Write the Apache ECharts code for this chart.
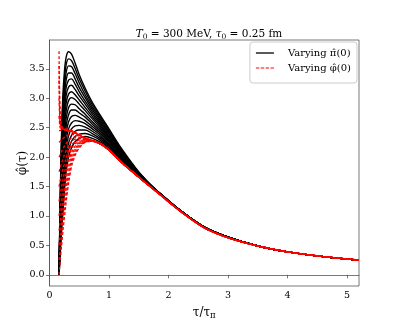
<!DOCTYPE html>
<html>
<head>
<meta charset="utf-8">
<script src="https://cdn.jsdelivr.net/npm/echarts@6/dist/echarts.min.js"></script>
<style>
  html, body { margin: 0; background: #fff; }
  #chart { width: 399px; height: 328px; }
</style>
</head>
<body>
<div id="chart"></div>
<script>
// tau/tau_pi sample points for the early part of the black curves (varying pi(0))
const blackX = [0.16, 0.18, 0.2, 0.22, 0.25, 0.28, 0.32, 0.37, 0.43, 0.5, 0.6, 0.72, 0.86, 1.0, 1.2, 1.5];
const blackCurves = [
  [0, 1.30, 2.30, 2.95, 3.45, 3.70, 3.79, 3.75, 3.60, 3.40, 3.17, 2.93, 2.70, 2.48, 2.16, 1.75],
  [0, 1.24, 2.19, 2.82, 3.31, 3.57, 3.67, 3.64, 3.51, 3.33, 3.12, 2.89, 2.67, 2.46, 2.14, 1.74],
  [0, 1.17, 2.09, 2.69, 3.18, 3.44, 3.55, 3.54, 3.42, 3.26, 3.06, 2.85, 2.64, 2.43, 2.13, 1.74],
  [0, 1.11, 1.98, 2.56, 3.04, 3.31, 3.43, 3.43, 3.33, 3.18, 3.01, 2.81, 2.61, 2.41, 2.11, 1.73],
  [0, 1.05, 1.87, 2.43, 2.90, 3.18, 3.31, 3.33, 3.24, 3.11, 2.95, 2.77, 2.58, 2.39, 2.10, 1.73],
  [0, 0.98, 1.77, 2.29, 2.77, 3.05, 3.19, 3.22, 3.15, 3.04, 2.90, 2.73, 2.55, 2.36, 2.08, 1.72],
  [0, 0.92, 1.66, 2.16, 2.63, 2.92, 3.07, 3.11, 3.06, 2.97, 2.84, 2.69, 2.52, 2.34, 2.07, 1.71],
  [0, 0.86, 1.55, 2.03, 2.49, 2.79, 2.96, 3.01, 2.98, 2.90, 2.79, 2.65, 2.49, 2.32, 2.05, 1.71],
  [0, 0.79, 1.45, 1.90, 2.36, 2.66, 2.84, 2.90, 2.89, 2.82, 2.73, 2.60, 2.46, 2.29, 2.04, 1.70],
  [0, 0.73, 1.34, 1.77, 2.22, 2.53, 2.72, 2.80, 2.80, 2.75, 2.68, 2.56, 2.43, 2.27, 2.02, 1.70],
  [0, 0.67, 1.23, 1.64, 2.08, 2.40, 2.60, 2.69, 2.71, 2.68, 2.62, 2.52, 2.40, 2.25, 2.01, 1.69],
  [0, 0.60, 1.13, 1.51, 1.95, 2.27, 2.48, 2.58, 2.62, 2.61, 2.57, 2.48, 2.37, 2.22, 1.99, 1.68],
  [0, 0.54, 1.02, 1.37, 1.81, 2.14, 2.36, 2.48, 2.53, 2.54, 2.51, 2.44, 2.34, 2.20, 1.98, 1.68],
  [0, 0.48, 0.91, 1.24, 1.67, 2.01, 2.24, 2.37, 2.44, 2.46, 2.46, 2.40, 2.31, 2.18, 1.96, 1.67],
  [0, 0.41, 0.81, 1.11, 1.54, 1.88, 2.12, 2.27, 2.35, 2.39, 2.40, 2.36, 2.28, 2.15, 1.95, 1.67],
  [0, 0.35, 0.70, 0.98, 1.40, 1.75, 2.00, 2.16, 2.26, 2.32, 2.35, 2.32, 2.25, 2.13, 1.93, 1.66]
];
// all black curves have merged by here
const blackTailX = [1.8, 2.2, 2.6, 3.0, 3.5, 4.0, 4.6, 5.2];
const blackTailY = [1.43, 1.09, 0.81, 0.64, 0.49, 0.39, 0.31, 0.25];

// red dashed curves (varying phi(0))
const redX = [0.16, 0.17, 0.18, 0.2, 0.23, 0.27, 0.32, 0.38, 0.45, 0.52, 0.6, 0.72, 0.86];
const redCurves = [
  [0.00, 0.12, 0.24, 0.46, 0.78, 1.15, 1.55, 1.88, 2.07, 2.18, 2.25, 2.27, 2.22],
  [0.25, 0.36, 0.47, 0.66, 0.95, 1.28, 1.64, 1.94, 2.10, 2.20, 2.26, 2.27, 2.22],
  [0.50, 0.60, 0.69, 0.87, 1.12, 1.42, 1.73, 1.99, 2.14, 2.22, 2.26, 2.27, 2.22],
  [0.75, 0.83, 0.92, 1.07, 1.29, 1.55, 1.83, 2.05, 2.17, 2.24, 2.27, 2.27, 2.22],
  [1.00, 1.07, 1.14, 1.28, 1.47, 1.68, 1.92, 2.10, 2.21, 2.25, 2.28, 2.27, 2.22],
  [1.25, 1.31, 1.37, 1.48, 1.64, 1.82, 2.01, 2.16, 2.24, 2.27, 2.29, 2.28, 2.22],
  [1.50, 1.55, 1.59, 1.68, 1.81, 1.95, 2.10, 2.22, 2.27, 2.29, 2.29, 2.28, 2.22],
  [1.75, 1.78, 1.82, 1.89, 1.98, 2.09, 2.19, 2.27, 2.31, 2.31, 2.30, 2.28, 2.22],
  [2.00, 2.02, 2.04, 2.09, 2.15, 2.22, 2.28, 2.33, 2.34, 2.33, 2.31, 2.28, 2.22],
  [2.25, 2.26, 2.27, 2.30, 2.32, 2.35, 2.38, 2.39, 2.37, 2.35, 2.31, 2.28, 2.22],
  [2.45, 2.45, 2.45, 2.46, 2.46, 2.46, 2.45, 2.43, 2.40, 2.36, 2.32, 2.28, 2.23],
  [2.70, 2.56, 2.50, 2.48, 2.47, 2.46, 2.45, 2.43, 2.40, 2.36, 2.32, 2.28, 2.23],
  [3.00, 2.70, 2.56, 2.49, 2.47, 2.46, 2.45, 2.43, 2.40, 2.36, 2.32, 2.28, 2.23],
  [3.30, 2.83, 2.62, 2.51, 2.48, 2.47, 2.46, 2.44, 2.40, 2.36, 2.32, 2.28, 2.23],
  [3.55, 2.95, 2.67, 2.53, 2.48, 2.47, 2.46, 2.44, 2.41, 2.37, 2.32, 2.28, 2.23],
  [3.80, 3.06, 2.72, 2.54, 2.49, 2.48, 2.47, 2.45, 2.41, 2.37, 2.33, 2.28, 2.23]
];
const redTailX = [1.0, 1.2, 1.5, 1.8, 2.2, 2.6, 3.0, 3.5, 4.0, 4.6, 5.2];
const redTailY = [2.12, 1.92, 1.66, 1.41, 1.08, 0.80, 0.63, 0.49, 0.39, 0.31, 0.25];

const xTicks = [0, 1, 2, 3, 4, 5];
const yTicks = [0, 0.5, 1.0, 1.5, 2.0, 2.5, 3.0, 3.5];

const nameBlack = 'Varying \u03c0\u0302(0)';
const nameRed = 'Varying \u03c6\u0302(0)';
const font = 'DejaVu Serif';
const frame = '#555';

const pairs = (xs, ys) => xs.map((x, i) => [x, ys[i]]);

const series = [];
blackCurves.forEach(ys => {
  series.push({
    name: nameBlack,
    type: 'line',
    data: pairs(blackX, ys).concat(pairs(blackTailX, blackTailY)),
    symbol: 'none',
    smooth: 0.3,
    lineStyle: { color: '#000', width: 1.4 },
    itemStyle: { color: '#000' },
    z: 2
  });
});
redCurves.forEach(ys => {
  series.push({
    name: nameRed,
    type: 'line',
    data: pairs(redX, ys).concat(pairs(redTailX, redTailY)),
    symbol: 'none',
    smooth: 0.3,
    lineStyle: { color: '#ff0000', width: 1.3, type: [3, 2] },
    itemStyle: { color: '#ff0000' },
    z: 3
  });
});

const chart = echarts.init(document.getElementById('chart'));
chart.setOption({
  animation: false,
  backgroundColor: '#fff',
  title: {
    text: '{i|T}{s|0} = 300 MeV, {i|\u03c4}{s|0} = 0.25 fm',
    left: 204,
    textAlign: 'center',
    top: 23,
    textStyle: {
      fontFamily: font, fontSize: 10.5, fontWeight: 'normal', color: '#000',
      rich: {
        i: { fontFamily: font, fontSize: 10.5, fontStyle: 'italic', color: '#000' },
        s: { fontFamily: font, fontSize: 7.5, color: '#000', verticalAlign: 'bottom', padding: [5, 0, 0, 0] }
      }
    }
  },
  legend: {
    data: [
      { name: nameBlack, icon: 'rect', itemStyle: { color: '#000' } },
      { name: nameRed, icon: 'path://M0,0h3.5v1h-3.5z M5,0h3.5v1h-3.5z M10,0h3.5v1h-3.5z M15,0h3.5v1h-3.5z', itemStyle: { color: '#ff0000' } }
    ],
    orient: 'vertical',
    right: 42,
    top: 42,
    itemWidth: 18,
    itemHeight: 1.3,
    itemGap: 5,
    padding: [6, 6, 10, 6],
    borderColor: '#ccc',
    borderWidth: 1,
    borderRadius: 3,
    backgroundColor: '#fff',
    textStyle: { fontFamily: font, fontSize: 10, color: '#000', padding: [0, 0, 0, 9] }
  },
  grid: {
    left: 49.5, right: 40, top: 40, bottom: 42,
    show: true, borderColor: frame, borderWidth: 0.8, containLabel: false
  },
  xAxis: {
    type: 'value',
    min: 0, max: 5.2,
    name: '\u03c4/\u03c4{s|\u03c0}',
    nameLocation: 'middle',
    nameGap: 19,
    nameMoveOverlap: false,
    nameTextStyle: {
      fontFamily: font, fontSize: 12, color: '#000',
      rich: { s: { fontFamily: font, fontSize: 8.5, color: '#000', verticalAlign: 'bottom', padding: [6, 0, 0, 0] } }
    },
    axisLine: { show: true, lineStyle: { color: frame, width: 0.8 } },
    axisTick: { show: true, inside: false, length: 3.5, lineStyle: { color: frame, width: 0.8 }, customValues: xTicks },
    axisLabel: { fontFamily: font, fontSize: 9.5, color: '#000', margin: 5, customValues: xTicks, formatter: v => String(v) },
    splitLine: { show: false }
  },
  yAxis: {
    type: 'value',
    min: -0.19, max: 3.99,
    name: '\u03c6\u0302(\u03c4)',
    nameLocation: 'middle',
    nameRotate: 90,
    nameGap: 21,
    nameMoveOverlap: false,
    nameTextStyle: { fontFamily: font, fontSize: 12, color: '#000' },
    axisLine: { show: true, lineStyle: { color: frame, width: 0.8 } },
    axisTick: { show: true, inside: false, length: 3.5, lineStyle: { color: frame, width: 0.8 }, customValues: yTicks },
    axisLabel: { fontFamily: font, fontSize: 9.5, color: '#000', margin: 5, customValues: yTicks, formatter: v => v.toFixed(1) },
    splitLine: { show: false }
  },
  series: series
});
</script>
</body>
</html>
